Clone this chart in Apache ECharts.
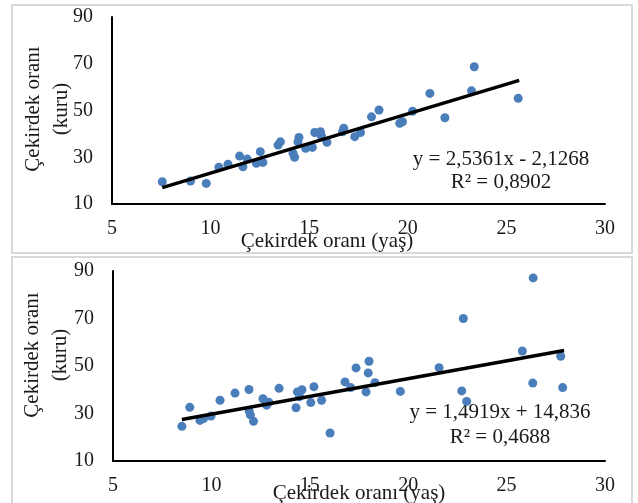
<!DOCTYPE html>
<html>
<head>
<meta charset="utf-8">
<script src="https://cdn.jsdelivr.net/npm/echarts@6/dist/echarts.min.js"></script>
<style>
  html, body { margin: 0; padding: 0; background: #fff; }
  #main { width: 638px; height: 503px; }
</style>
</head>
<body>
<div id="main"></div>
<script>
// ust grafik: cekirdek orani (yas) - cekirdek orani (kuru)
var topPoints = [
  [7.55, 19.5], [8.98, 19.8], [9.78, 18.8], [10.42, 25.7], [10.88, 27.0],
  [11.47, 30.5], [11.64, 25.9], [11.86, 29.2], [12.32, 27.4], [12.52, 32.4],
  [12.65, 27.8], [13.42, 35.2], [13.54, 36.6], [14.18, 31.7], [14.26, 30.0],
  [14.48, 38.5], [14.43, 36.6], [14.82, 33.8], [15.16, 34.2], [15.28, 40.6],
  [15.57, 40.9], [15.62, 39.1], [15.9, 36.4], [16.75, 42.4], [16.69, 40.9],
  [17.31, 38.8], [17.6, 40.6], [18.16, 47.3], [18.54, 50.2], [19.59, 44.5],
  [19.73, 45.2], [20.24, 49.7], [21.12, 57.3], [21.88, 46.9], [23.23, 58.4],
  [23.37, 68.7], [25.6, 55.2]
];
var topTrend = [[7.55, 17.0], [25.65, 62.9]];
var topEquation = ['y = 2,5361x - 2,1268', 'R² = 0,8902'];

// alt grafik
var bottomPoints = [
  [8.5, 24.6], [8.9, 32.6], [9.42, 27.1], [9.6, 27.9], [9.98, 28.9],
  [10.44, 35.6], [11.2, 38.6], [11.91, 40.1], [11.92, 31.0], [11.98, 29.4],
  [12.14, 26.7], [12.62, 36.2], [12.81, 33.5], [12.92, 34.7], [13.44, 40.6],
  [14.3, 32.4], [14.37, 39.1], [14.48, 37.1], [14.6, 40.0], [15.05, 34.6],
  [15.21, 41.3], [15.6, 35.6], [16.03, 21.8], [16.79, 43.3], [17.08, 40.9],
  [17.35, 49.2], [17.86, 39.1], [17.97, 47.1], [18.01, 52.0], [18.31, 43.0],
  [19.6, 39.3], [21.57, 49.3], [22.8, 70.0], [22.72, 39.5], [22.97, 35.1],
  [25.8, 56.3], [26.35, 87.1], [26.33, 42.8], [27.75, 54.1], [27.85, 40.9]
];
var bottomTrend = [[8.5, 27.5], [27.92, 56.5]];
var bottomEquation = ['y = 1,4919x + 14,836', 'R² = 0,4688'];

var xTitle = 'Çekirdek oranı (yaş)';
var yTitle = 'Çekirdek oranı\n(kuru)';

var font = '"Liberation Serif", "Times New Roman", serif';
var txt = '#1a1a1a';
var dotColor = '#4a7ebb';

function xAx(gi) {
  return {
    type: 'value', gridIndex: gi, min: 5, max: 30, interval: 5,
    splitLine: { show: false }, axisTick: { show: false },
    axisLine: { lineStyle: { color: '#000', width: 2 } },
    axisLabel: { color: txt, fontFamily: font, fontSize: 20, margin: 15 }
  };
}
function yAx(gi) {
  return {
    type: 'value', gridIndex: gi, min: 10, max: 90, interval: 20,
    splitLine: { show: false }, axisTick: { show: false },
    axisLine: { show: true, lineStyle: { color: '#000', width: 2 } },
    axisLabel: { color: txt, fontFamily: font, fontSize: 20, margin: 19 }
  };
}

var myChart = echarts.init(document.getElementById('main'));
myChart.setOption({
  animation: false,
  backgroundColor: '#fff',
  grid: [
    { left: 112, top: 17, width: 493, height: 187 },
    { left: 113, top: 271, width: 492, height: 190 }
  ],
  xAxis: [xAx(0), xAx(1)],
  yAxis: [yAx(0), yAx(1)],
  graphic: [
    // panel cerceveleri
    { type: 'rect', shape: { x: 12, y: 5, width: 620, height: 248 }, style: { fill: 'none', stroke: '#d9d9d9', lineWidth: 2 }, z: -1 },
    { type: 'rect', shape: { x: 12, y: 257, width: 620, height: 260 }, style: { fill: 'none', stroke: '#d9d9d9', lineWidth: 2 }, z: -1 },
    // eksen basliklari
    { type: 'text', x: 327, y: 241, style: { text: xTitle, font: '21px ' + font, fill: txt, align: 'center', verticalAlign: 'middle' } },
    { type: 'text', x: 359, y: 493, style: { text: xTitle, font: '21px ' + font, fill: txt, align: 'center', verticalAlign: 'middle' } },
    { type: 'text', x: 47, y: 109, rotation: Math.PI / 2, style: { text: yTitle, font: '21px ' + font, fill: txt, align: 'center', verticalAlign: 'middle', lineHeight: 28 } },
    { type: 'text', x: 46, y: 355, rotation: Math.PI / 2, style: { text: yTitle, font: '21px ' + font, fill: txt, align: 'center', verticalAlign: 'middle', lineHeight: 28 } },
    // denklemler
    { type: 'text', x: 501, y: 171, style: { text: topEquation.join('\n'), font: '21px ' + font, fill: txt, align: 'center', verticalAlign: 'middle', lineHeight: 23 } },
    { type: 'text', x: 500, y: 425, style: { text: bottomEquation.join('\n'), font: '21px ' + font, fill: txt, align: 'center', verticalAlign: 'middle', lineHeight: 25 } }
  ],
  series: [
    { type: 'scatter', xAxisIndex: 0, yAxisIndex: 0, data: topPoints, symbolSize: 9, itemStyle: { color: dotColor, opacity: 1 } },
    { type: 'line', xAxisIndex: 0, yAxisIndex: 0, data: topTrend, showSymbol: false, symbol: 'none', lineStyle: { color: '#000', width: 3.5 }, z: 3 },
    { type: 'scatter', xAxisIndex: 1, yAxisIndex: 1, data: bottomPoints, symbolSize: 9, itemStyle: { color: dotColor, opacity: 1 } },
    { type: 'line', xAxisIndex: 1, yAxisIndex: 1, data: bottomTrend, showSymbol: false, symbol: 'none', lineStyle: { color: '#000', width: 3.5 }, z: 3 }
  ]
});
</script>
</body>
</html>
